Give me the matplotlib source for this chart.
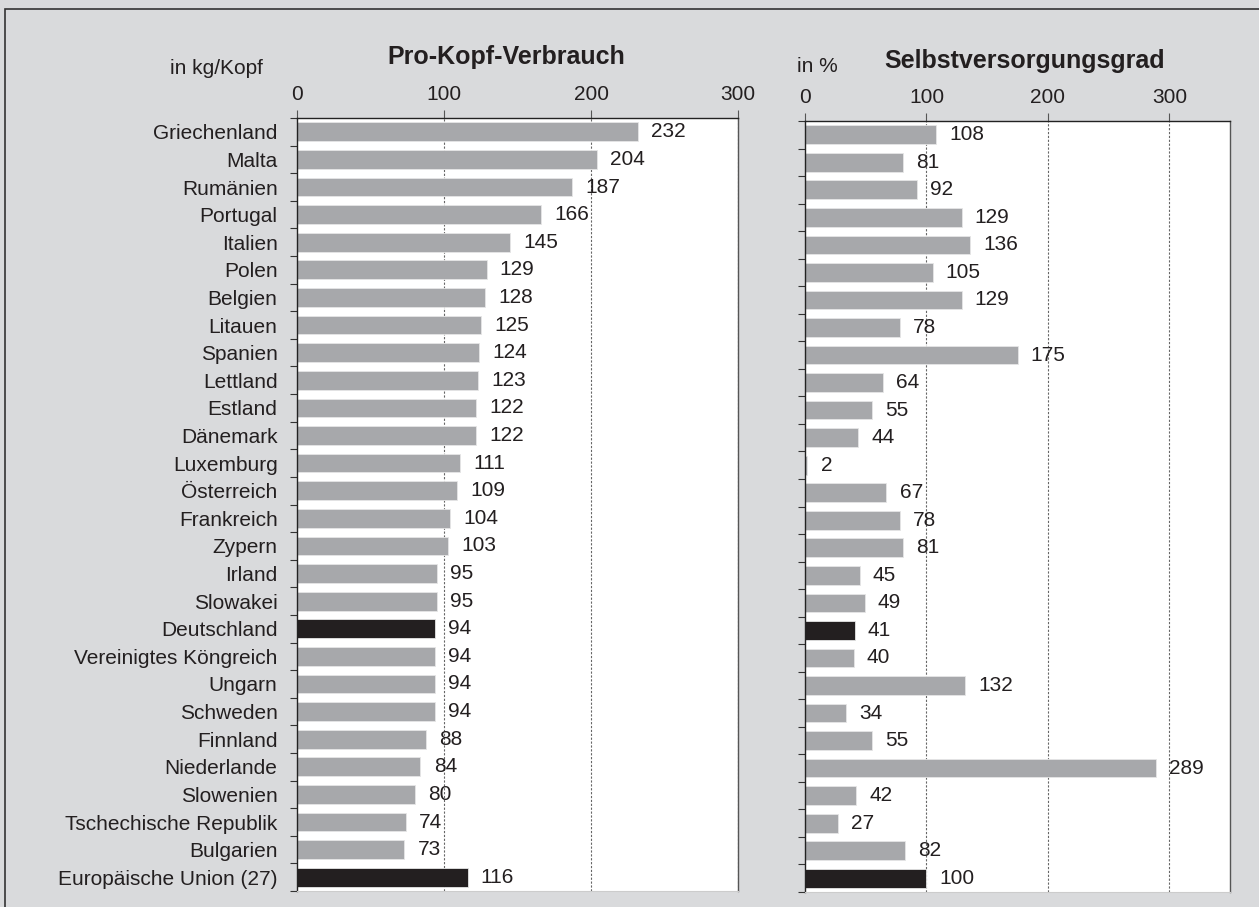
import numpy as np
import matplotlib.pyplot as plt
from matplotlib.patches import Rectangle

laender = ['Griechenland', 'Malta', 'Rumänien', 'Portugal', 'Italien', 'Polen',
           'Belgien', 'Litauen', 'Spanien', 'Lettland', 'Estland', 'Dänemark',
           'Luxemburg', 'Österreich', 'Frankreich', 'Zypern', 'Irland', 'Slowakei',
           'Deutschland', 'Vereinigtes Köngreich', 'Ungarn', 'Schweden', 'Finnland',
           'Niederlande', 'Slowenien', 'Tschechische Republik', 'Bulgarien',
           'Europäische Union (27)']
verbrauch = [232, 204, 187, 166, 145, 129, 128, 125, 124, 123, 122, 122, 111, 109,
             104, 103, 95, 95, 94, 94, 94, 94, 88, 84, 80, 74, 73, 116]
selbstversorgung = [108, 81, 92, 129, 136, 105, 129, 78, 175, 64, 55, 44, 2, 67,
                    78, 81, 45, 49, 41, 40, 132, 34, 55, 289, 42, 27, 82, 100]
hervorgehoben = ['Deutschland', 'Europäische Union (27)']

plt.rcParams['font.family'] = ['Liberation Sans', 'DejaVu Sans']
TXT = '#231f20'
GRAU = '#a7a8ab'
BG = '#d9dadc'
FS = 15

fig = plt.figure(figsize=(12.59, 9.07), dpi=100, facecolor=BG)
fig.patches.append(Rectangle((5 / 1259, -0.1), 1.2, 1 - 9 / 907 + 0.1,
                             transform=fig.transFigure, fill=False,
                             edgecolor='#333333', lw=1.2))

ax1 = fig.add_axes([0.2359, 0.0176, 0.3503, 0.8523])
ax2 = fig.add_axes([0.6394, 0.0165, 0.3376, 0.8501])

n = len(laender)
y = np.arange(n)
farben = [TXT if l in hervorgehoben else GRAU for l in laender]


def panel(ax, werte, xmax, ticks):
    ax.set_facecolor('white')
    ax.barh(y, werte, height=0.68, color=farben, edgecolor='#e6e6e6',
            linewidth=0.6, zorder=2)
    ax.set_ylim(n - 0.5, -0.5)
    ax.set_xlim(0, xmax)
    ax.set_xticks(ticks)
    ax.xaxis.tick_top()
    ax.tick_params(axis='x', direction='out', length=6, pad=4, labelsize=FS,
                   color='#555555', labelcolor=TXT, width=0.8)
    ax.set_yticks(y)
    ax.set_yticks(np.arange(n + 1) - 0.5, minor=True)
    ax.tick_params(axis='y', which='major', length=0, pad=14, labelsize=FS,
                   colors=TXT)
    ax.tick_params(axis='y', which='minor', length=5, width=0.8, color='#333333')
    for t in ticks[1:]:
        ax.axvline(t, color='#666666', lw=0.8, ls=(0, (2, 1.5)), zorder=1)
    for s in ['left', 'top']:
        ax.spines[s].set_color('#222222')
        ax.spines[s].set_linewidth(1.0)
    ax.spines['right'].set_color('#555555')
    ax.spines['right'].set_linewidth(1.0)
    ax.spines['bottom'].set_color('#cccccc')
    for yi, w in zip(y, werte):
        ax.annotate(str(w), (w, yi), xytext=(9.5, 0), textcoords='offset points',
                    va='center', ha='left', fontsize=FS, color=TXT, zorder=3)


panel(ax1, verbrauch, 300, [0, 100, 200, 300])
ax1.set_yticklabels(laender)
panel(ax2, selbstversorgung, 350, [0, 100, 200, 300])
ax2.set_yticklabels([])
ax2.tick_params(axis='y', which='major', pad=0)

fig.text(506 / 1259, 1 - 57 / 907, 'Pro-Kopf-Verbrauch', ha='center',
         va='center', fontsize=18, fontweight='bold', color=TXT)
fig.text(1025 / 1259, 1 - 61 / 907, 'Selbstversorgungsgrad', ha='center',
         va='center', fontsize=18, fontweight='bold', color=TXT)
fig.text(216 / 1259, 1 - 68 / 907, 'in kg/Kopf', ha='center', va='center',
         fontsize=FS, color=TXT)
fig.text(797 / 1259, 1 - 66 / 907, 'in %', ha='left', va='center',
         fontsize=FS, color=TXT)

fig.savefig('out.png', dpi=100, facecolor=BG)
